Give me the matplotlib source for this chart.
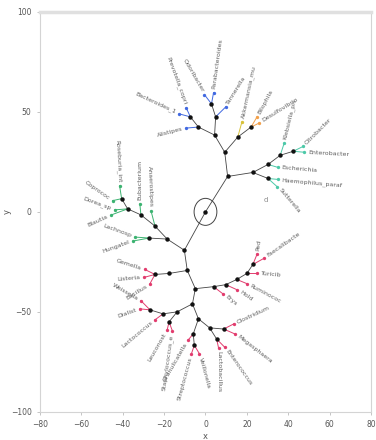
import matplotlib
matplotlib.use("Agg")
import matplotlib.pyplot as plt
from matplotlib.patches import Ellipse
import numpy as np

# inner (branching) nodes: name, x, y, parent
inner_names = ["R", "A", "B", "C", "D", "E", "F", "G", "H", "I", "J",
               "C1", "C2", "C3", "C4",
               "P", "L1", "L2", "L3", "L4", "L5", "L6",
               "Q1", "Q2", "Q3", "Q4", "Q5", "Q6", "Q7", "Q8", "Q9", "Q10",
               "Q11", "Q12", "Q13", "Q14", "Q15", "Q16", "Q17", "Q18", "Q19", "Q20"]
inner_x = [0.0, 10.7, 9.3, 22.9, 4.4, 15.6, 4.9, -3.4, -7.3, 2.9, 22.0,
           30.2, 30.2, 36.1, 42.4,
           -10.2, -18.5, -27.3, -24.4, -31.2, -37.6, -40.5,
           -8.8, -17.6, -24.4, -4.9, -6.3, -13.7, -20.5, -26.8, -17.6, -3.4,
           -5.9, -5.4, 2.0, 5.4, 8.8, 3.9, 9.8, 15.1, 20.0, 22.9]
inner_y = [0.0, 17.7, 29.8, 19.7, 38.4, 37.4, 47.5, 42.4, 47.5, 54.0, 42.4,
           23.7, 16.7, 28.3, 30.3,
           -19.2, -13.6, -13.1, -7.1, -1.5, 1.5, 6.6,
           -29.3, -30.8, -31.3, -38.4, -46.0, -50.0, -51.0, -49.0, -55.0, -53.5,
           -61.0, -66.7, -58.0, -63.6, -58.6, -37.4, -36.4, -33.8, -30.8, -26.3]
inner_parent = [None, "R", "A", "A", "B", "B", "D", "D", "G", "F", "E",
                "C", "C", "C1", "C3",
                "R", "P", "L1", "L1", "L3", "L4", "L5",
                "P", "Q1", "Q2", "Q1", "Q4", "Q5", "Q6", "Q7", "Q6", "Q5",
                "Q10", "Q11", "Q10", "Q13", "Q13", "Q4", "Q16", "Q17", "Q18", "Q19"]

# leaves
leaf_x = [-12.7, -9.3, -9.3, -0.5, 3.9, 9.8,
          17.6, 24.9, 25.9,
          35.1, 38.0, 47.8, 47.3, 35.1, 34.6,
          -43.9, -45.4, -41.5, -44.9, -31.7, -26.3, -34.1, -35.1,
          -29.3, -29.8, -26.8, -31.2, -31.7, -24.4, -18.5, -16.0, -6.8, -2.9,
          6.3, 9.3, 13.7, 14.1, 8.3, 15.1, 20.0, 24.9, 24.9, 28.3, -8.3]
leaf_y = [49.0, 52.0, 41.9, 58.6, 59.6, 52.5,
          45.0, 47.5, 44.4,
          22.2, 34.3, 29.8, 32.8, 16.2, 12.6,
          1.0, -1.5, 13.1, 5.6, 4.0, 0.5, -12.6, -14.6,
          -28.8, -32.8, -35.9, -44.4, -48.5, -54.0, -59.0, -59.5, -71.0, -71.0,
          -68.0, -67.7, -56.0, -61.0, -40.9, -38.9, -35.9, -30.8, -21.2, -23.2, -64.0]
leaf_parent = ["H", "H", "G", "I", "I", "F",
               "E", "J", "J",
               "C1", "C3", "C4", "C4", "C2", "C2",
               "L5", "L5", "L6", "L6", "L4", "L3", "L2", "L2",
               "Q3", "Q3", "Q3", "Q8", "Q8", "Q7", "Q9", "Q9", "Q12", "Q12",
               "Q14", "Q14", "Q15", "Q15", "Q16", "Q17", "Q18", "Q19", "Q20", "Q20", "Q11"]
leaf_group = ["blue"] * 6 + ["yellow", "orange", "orange"] + ["cyan"] * 6 + \
             ["green"] * 8 + ["red"] * 21
leaf_angle = [155, 110, 195, 120, 82, 58,
              78, 62, 32,
              -5, 76, -3, 45, -5, -50,
              160, 205, 93, 145, 90, 92, 160, 200,
              162, 185, 212, 150, 200, 220, 240, 262, 255, 285,
              270, 305, 25, -38, -40, -35, -28, -5, 82, 35, 240]
leaf_label = ["Bacteroides_1", "Prevotella_copri", "Alistipes", "Odoribacter",
              "Parabacteroides", "Tannerella",
              "Akkermansia_mu", "Bilophila", "Desulfovibrio",
              "Escherichia", "Klebsiella_pn", "Enterobacter", "Citrobacter",
              "Haemophilus_paraf", "Sutterella",
              "Dorea_sp", "Blautia", "Roseburia_int", "Coprococ",
              "Eubacterium", "Anaerostipes", "Lachnosp", "Hungatel",
              "Gemella", "Listeria", "Bacillus", "Weissella", "Dialist",
              "Lactococcus", "Leuconost", "Staphylococcus_e", "Streptococcus",
              "Veillonella", "Lactobacillus", "Enterococcus", "Clostridium",
              "Megasphaera", "Erys", "Hold", "Ruminococ", "Turicib",
              "Ped", "Faecalibacte", "Granulicatella"]

group_color = {"blue": "#4169e1", "yellow": "#d8c23a", "orange": "#f2a04a",
               "cyan": "#4cc9a8", "green": "#3cb371", "red": "#e23c6e"}

pos = {n: (x, y) for n, x, y in zip(inner_names, inner_x, inner_y)}

fig = plt.figure(figsize=(3.76, 4.40), dpi=100)
ax = fig.add_axes([0.106, 0.064, 0.881, 0.909])

# edges between inner nodes
for n, par in zip(inner_names, inner_parent):
    if par is None:
        continue
    x0, y0 = pos[par]
    x1, y1 = pos[n]
    ax.plot([x0, x1], [y0, y1], color="#444444", lw=0.6, zorder=1)

# leaf edges, labels
for x, y, par, grp, ang, lab in zip(leaf_x, leaf_y, leaf_parent, leaf_group,
                                    leaf_angle, leaf_label):
    col = group_color[grp]
    x0, y0 = pos[par]
    ax.plot([x0, x], [y0, y], color=col, lw=0.7, zorder=1)
    a = np.deg2rad(ang)
    tx, ty = x + 1.8 * np.cos(a), y + 1.8 * np.sin(a)
    a_n = ((ang + 180) % 360) - 180
    if a_n > 90 or a_n < -90:
        rot, ha = (a_n - 180 if a_n > 0 else a_n + 180), "right"
    else:
        rot, ha = a_n, "left"
    ax.text(tx, ty, lab, fontsize=4.5, color="#5e5e5e", rotation=rot,
            rotation_mode="anchor", ha=ha, va="center", zorder=2)
    ax.plot(x, y, "o", ms=2.4, color=col, mec="none", zorder=3)

ax.plot(inner_x, inner_y, "o", ms=3.2, color="#111111", mec="none", zorder=4)
ax.add_patch(Ellipse((0, 0), 11, 13.5, fill=False, ec="#444444", lw=0.7, zorder=3))
ax.text(29.3, 6.0, "d", fontsize=5, color="#888888", ha="center", va="center")

ax.set_xlim(-80, 80)
ax.set_ylim(-100, 100)
ax.set_xticks(range(-80, 81, 20))
ax.set_yticks([-100, -50, 0, 50, 100])
ax.tick_params(labelsize=5.5, labelcolor="#555555", color="#bbbbbb",
               length=2.5, width=0.6)
for s in ax.spines.values():
    s.set_color("#d4d4d4")
    s.set_linewidth(0.8)
ax.spines["top"].set_color("#e0e0e0")
ax.spines["top"].set_linewidth(2.5)
ax.set_xlabel("x", fontsize=6, color="#555555", labelpad=2)
ax.set_ylabel("y", fontsize=6, color="#555555")
ax.yaxis.set_label_coords(-0.085, 0.5)

fig.savefig("out.png", dpi=100)
